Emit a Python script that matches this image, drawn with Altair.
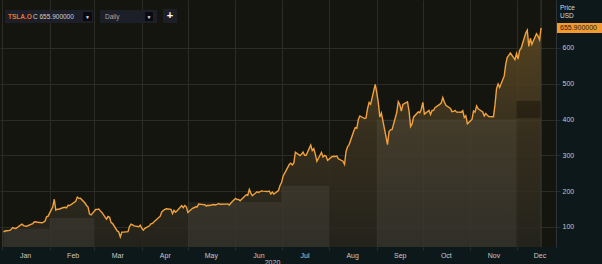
import altair as alt
import pandas as pd

# ---- data (TSLA.O daily close, USD, 2020) ----
jan = ["2020-01-02","2020-01-03","2020-01-06","2020-01-07","2020-01-08","2020-01-09","2020-01-10","2020-01-13","2020-01-14","2020-01-15","2020-01-16","2020-01-17","2020-01-21","2020-01-22","2020-01-23","2020-01-24","2020-01-27","2020-01-28","2020-01-29","2020-01-30","2020-01-31"]
jan_close = [86.05,88.60,90.31,93.81,98.43,96.27,95.63,104.97,107.58,103.70,102.70,102.10,109.44,113.91,114.44,112.96,111.60,113.38,116.20,128.16,130.11]
feb = ["2020-02-03","2020-02-04","2020-02-05","2020-02-06","2020-02-07","2020-02-10","2020-02-11","2020-02-12","2020-02-13","2020-02-14","2020-02-18","2020-02-19","2020-02-20","2020-02-21","2020-02-24","2020-02-25","2020-02-26","2020-02-27","2020-02-28"]
feb_close = [156.00,177.41,146.94,149.79,149.61,154.26,154.88,153.46,160.80,160.01,171.68,183.48,179.88,180.20,166.76,159.98,155.76,135.80,133.60]
mar = ["2020-03-02","2020-03-03","2020-03-04","2020-03-05","2020-03-06","2020-03-09","2020-03-10","2020-03-11","2020-03-12","2020-03-13","2020-03-16","2020-03-17","2020-03-18","2020-03-19","2020-03-20","2020-03-23","2020-03-24","2020-03-25","2020-03-26","2020-03-27","2020-03-30","2020-03-31"]
mar_close = [148.72,149.10,149.90,144.91,140.70,121.60,129.07,126.85,112.11,109.32,89.01,86.04,72.24,85.53,85.51,86.86,101.00,107.85,105.63,102.87,100.43,104.80]
apr = ["2020-04-01","2020-04-02","2020-04-03","2020-04-06","2020-04-07","2020-04-08","2020-04-09","2020-04-13","2020-04-14","2020-04-15","2020-04-16","2020-04-17","2020-04-20","2020-04-21","2020-04-22","2020-04-23","2020-04-24","2020-04-27","2020-04-28","2020-04-29","2020-04-30"]
apr_close = [96.31,90.89,96.00,103.25,109.09,109.77,114.60,130.19,141.98,145.97,149.04,150.78,149.27,137.34,146.42,141.13,145.03,159.75,153.82,160.10,156.38]
may = ["2020-05-01","2020-05-04","2020-05-05","2020-05-06","2020-05-07","2020-05-08","2020-05-11","2020-05-12","2020-05-13","2020-05-14","2020-05-15","2020-05-18","2020-05-19","2020-05-20","2020-05-21","2020-05-22","2020-05-26","2020-05-27","2020-05-28","2020-05-29"]
may_close = [140.26,152.24,153.64,156.52,156.01,163.88,162.26,161.88,158.19,160.67,159.83,162.73,161.60,163.11,165.52,163.38,163.77,164.05,161.16,167.00]
jun = ["2020-06-01","2020-06-02","2020-06-03","2020-06-04","2020-06-05","2020-06-08","2020-06-09","2020-06-10","2020-06-11","2020-06-12","2020-06-15","2020-06-16","2020-06-17","2020-06-18","2020-06-19","2020-06-22","2020-06-23","2020-06-24","2020-06-25","2020-06-26","2020-06-29","2020-06-30"]
jun_close = [179.62,176.31,176.59,172.88,177.13,189.98,188.13,205.01,194.57,187.06,198.18,196.43,198.36,200.79,200.18,198.86,200.36,192.17,197.20,191.95,201.87,215.96]
jul = ["2020-07-01","2020-07-02","2020-07-06","2020-07-07","2020-07-08","2020-07-09","2020-07-10","2020-07-13","2020-07-14","2020-07-15","2020-07-16","2020-07-17","2020-07-20","2020-07-21","2020-07-22","2020-07-23","2020-07-24","2020-07-27","2020-07-28","2020-07-29","2020-07-30","2020-07-31"]
jul_close = [223.93,241.73,274.32,277.97,273.18,278.86,308.93,299.41,303.36,309.20,300.13,300.17,328.60,313.67,318.47,302.61,283.40,307.92,295.30,299.82,297.50,286.15]
aug = ["2020-08-03","2020-08-04","2020-08-05","2020-08-06","2020-08-07","2020-08-10","2020-08-11","2020-08-12","2020-08-13","2020-08-14","2020-08-17","2020-08-18","2020-08-19","2020-08-20","2020-08-21","2020-08-24","2020-08-25","2020-08-26","2020-08-27","2020-08-28","2020-08-31"]
aug_close = [297.00,297.40,297.00,297.92,290.54,283.71,274.88,310.95,324.20,330.14,367.13,377.42,375.71,400.37,409.99,402.84,404.67,430.63,447.75,442.68,498.32]
sep = ["2020-09-01","2020-09-02","2020-09-03","2020-09-04","2020-09-08","2020-09-09","2020-09-10","2020-09-11","2020-09-14","2020-09-15","2020-09-16","2020-09-17","2020-09-18","2020-09-21","2020-09-22","2020-09-23","2020-09-24","2020-09-25","2020-09-28","2020-09-29","2020-09-30"]
sep_close = [475.05,447.37,407.00,418.32,330.21,366.28,371.34,372.72,419.62,449.76,441.76,423.43,442.15,449.39,424.23,380.36,387.79,407.34,421.20,419.07,429.01]
oct_ = ["2020-10-01","2020-10-02","2020-10-05","2020-10-06","2020-10-07","2020-10-08","2020-10-09","2020-10-12","2020-10-13","2020-10-14","2020-10-15","2020-10-16","2020-10-19","2020-10-20","2020-10-21","2020-10-22","2020-10-23","2020-10-26","2020-10-27","2020-10-28","2020-10-29","2020-10-30"]
oct_close = [448.16,415.09,425.68,413.98,425.30,425.92,434.00,442.30,446.65,461.30,448.88,439.67,430.83,421.94,422.64,425.79,420.63,420.28,424.68,406.02,410.83,388.04]
nov = ["2020-11-02","2020-11-03","2020-11-04","2020-11-05","2020-11-06","2020-11-09","2020-11-10","2020-11-11","2020-11-12","2020-11-13","2020-11-16","2020-11-17","2020-11-18","2020-11-19","2020-11-20","2020-11-23","2020-11-24","2020-11-25","2020-11-27","2020-11-30"]
nov_close = [400.51,423.90,420.98,438.09,429.95,421.26,410.36,417.13,411.76,408.50,408.09,441.61,486.64,499.27,489.61,521.85,555.38,574.00,585.76,567.60]
dec = ["2020-12-01","2020-12-02","2020-12-03","2020-12-04","2020-12-07","2020-12-08","2020-12-09","2020-12-10","2020-12-11","2020-12-14","2020-12-15","2020-12-16","2020-12-17"]
dec_close = [584.76,568.82,593.38,599.04,641.76,649.88,604.48,627.07,609.99,639.83,633.25,622.77,655.90]

# background shading blocks (start, end, low price, high price, tone)
band_start = ["2020-01-01", "2020-02-01", "2020-05-01", "2020-07-01", "2020-09-01", "2020-12-01"]
band_end   = ["2020-02-01", "2020-03-01", "2020-07-01", "2020-08-01", "2020-12-01", "2020-12-17"]
band_low   = [44, 44, 44, 44, 44, 404]
band_high  = [95, 125, 170, 215, 400, 452]
band_tone  = ["light", "light", "light", "light", "light", "dark"]

y_ticks = [100, 200, 300, 400, 500, 600]
ticker = "TSLA.O"
quote_text = "C 655.900000"
last_price = "655.900000"
last_date = "2020-12-17"
interval = "Daily"
year_label = "2020"

dates = jan + feb + mar + apr + may + jun + jul + aug + sep + oct_ + nov + dec
closes = (jan_close + feb_close + mar_close + apr_close + may_close + jun_close +
          jul_close + aug_close + sep_close + oct_close + nov_close + dec_close)
df = pd.DataFrame({"date": pd.to_datetime(dates), "close": closes})
bands = pd.DataFrame({"start": pd.to_datetime(band_start), "end": pd.to_datetime(band_end),
                      "low": band_low, "high": band_high, "tone": band_tone})

BG_PANEL = "#0d181a"
BG_PLOT = "#14150f"
GRID = "#2a2c25"
LABEL = "#c8c8c8"
ORANGE = "#f2a13d"
FONT = "Liberation Sans"

month_starts = [alt.DateTime(year=2020, month=m, date=1) for m in range(1, 13)]

x_scale = alt.Scale(domain=[alt.DateTime(year=2019, month=12, date=30, hours=16),
                            alt.DateTime(year=2020, month=12, date=26, hours=17)])
y_scale = alt.Scale(domain=[44, 734], nice=False, zero=False)

x_enc = alt.X(
    "date:T", scale=x_scale,
    axis=alt.Axis(values=month_starts, format="%b", labelOffset=23, labelColor=LABEL,
                  labelFontSize=7, labelFont=FONT, labelPadding=1, tickSize=3,
                  tickColor=GRID, grid=True, gridColor=GRID, domain=False,
                  labelFlush=False, labelOverlap=False,
                  title=year_label, titleX=272, titleY=11, titleFontSize=7,
                  titleFontWeight="normal", titleColor=LABEL, titleFont=FONT,
                  titleBaseline="top"),
)
y_enc = alt.Y(
    "close:Q", scale=y_scale,
    axis=alt.Axis(orient="right", values=y_ticks, labelColor=LABEL, labelFontSize=7,
                  labelFont=FONT, tickSize=4, tickColor=GRID, labelPadding=2,
                  grid=True, gridColor=GRID, domainColor="#2e3436", title=None),
)

base = alt.Chart(df)
area = base.mark_area(
    color=alt.Gradient(gradient="linear",
                       stops=[alt.GradientStop(color="#604b22", offset=0),
                              alt.GradientStop(color="#3b3220", offset=0.5),
                              alt.GradientStop(color="#26251d", offset=1)],
                       x1=0, x2=0, y1=0, y2=1),
    opacity=0.85,
).encode(x=x_enc, y=y_enc, y2=alt.datum(44))

band_layer = alt.Chart(bands).mark_rect().encode(
    x=alt.X("start:T", scale=x_scale), x2="end:T",
    y=alt.Y("low:Q", scale=y_scale), y2="high:Q",
    color=alt.Color("tone:N", scale=alt.Scale(domain=["light", "dark"],
                                              range=["#ffffff", "#000000"]), legend=None),
    opacity=alt.Opacity("tone:N", scale=alt.Scale(domain=["light", "dark"],
                                                  range=[0.06, 0.3]), legend=None),
)

cursor = alt.Chart(alt.Data(values=[{"d": last_date}])).mark_rule(
    color="#3a3c36", strokeWidth=1).encode(x=alt.X("d:T", scale=x_scale))

line = base.mark_line(color=ORANGE, strokeWidth=1.4).encode(x="date:T", y="close:Q")

one = alt.Data(values=[{}])

def box(x1, x2, y1, y2, fill):
    return alt.Chart(one).mark_rect(fill=fill).encode(
        x=alt.value(x1), x2=alt.value(x2), y=alt.value(y1), y2=alt.value(y2))

def label(txt, x, y, color, size=7, weight="normal", align="left"):
    return alt.Chart(one).mark_text(color=color, fontSize=size, font=FONT, fontWeight=weight,
                                    align=align, baseline="middle").encode(
        x=alt.value(x), y=alt.value(y), text=alt.value(txt))

overlay = [
    box(5, 93, 10, 23, "#1c1e28"),
    label(ticker, 8, 16.5, "#e8742c", 6.5, "bold"),
    label(quote_text, 33, 16.5, "#d0d0d0", 6.5),
    box(83, 92, 12, 21, "#090a0d"),
    label("▼", 87.5, 16.5, "#e0e0e0", 5, align="center"),
    box(100, 157, 10, 23, "#1c1e28"),
    label(interval, 105, 16.5, "#a8a8a8", 6.5),
    box(145, 153, 12, 21, "#090a0d"),
    label("▼", 149, 16.5, "#e0e0e0", 5, align="center"),
    box(163, 177, 9, 23, "#1c1e28"),
    label("+", 170, 15.5, "#ffffff", 11, "bold", align="center"),
    label("Price", 560, 7.5, "#d8d8d8", 6.5),
    label("USD", 560, 16, "#d8d8d8", 6.5),
    box(557, 602, 23, 33, "#f39a2e"),
    label(last_price, 560, 28, "#1a1a1a", 7),
]

chart = alt.layer(area, band_layer, cursor, line, *overlay).properties(
    width=556, height=247,
    padding={"left": 0, "top": 0, "right": 46, "bottom": 17},
    autosize=alt.AutoSizeParams(type="none"),
    background=BG_PANEL,
).configure_view(fill=BG_PLOT, stroke=None)

chart.save("out.html", embed_options={"renderer": "svg", "actions": False})
